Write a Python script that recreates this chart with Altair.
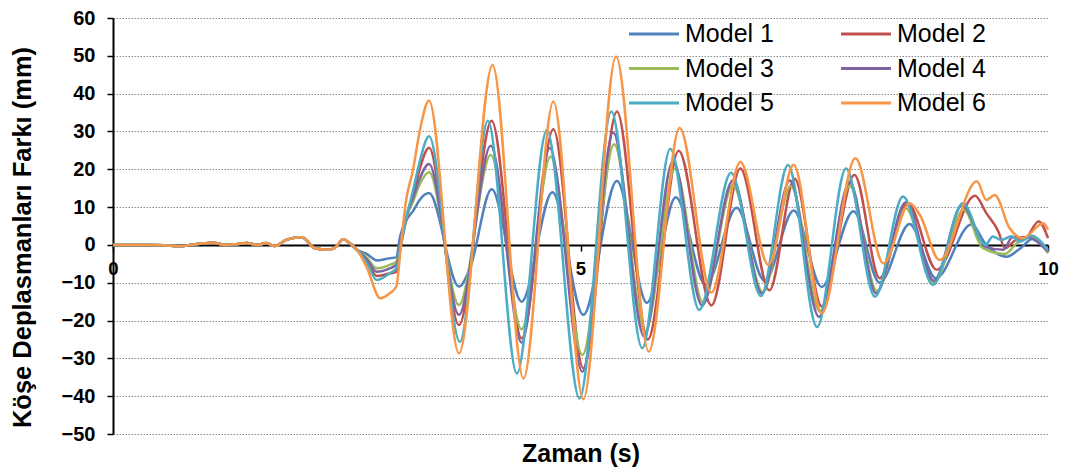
import altair as alt
import pandas as pd

FONT = "Liberation Sans"

models = ["Model 1", "Model 2", "Model 3", "Model 4", "Model 5", "Model 6"]
colors = ["#4F81BD", "#C0504D", "#9BBB59", "#8064A2", "#4BACC6", "#F79646"]

# shared low-amplitude start (all models nearly identical)
t_early = [0.0, 0.40, 0.55, 0.72, 0.85, 0.95, 1.07, 1.20, 1.32, 1.43, 1.55, 1.64, 1.73,
           1.86, 2.02, 2.16, 2.30, 2.39, 2.46, 2.53, 2.61]
v_early = [0.0, 0.0, -0.1, -0.4, 0.1, 0.4, 0.6, 0.0, 0.2, 0.5, 0.0, 0.5, -0.3,
           1.4, 2.0, -0.9, -1.3, -0.4, 1.5, 0.5, -1.3]

t_m1 = [2.72, 2.82, 2.96, 3.03, 3.07, 3.14, 3.21, 3.28, 3.38, 3.70, 3.82, 4.05, 4.37, 4.70,
        5.03, 5.39, 5.71, 6.02, 6.34, 6.67, 6.97, 7.28, 7.58, 7.92, 8.20, 8.52, 8.80, 9.18,
        9.34, 9.56, 9.70, 9.84, 10.0]
v_m1 = [-2.5, -4.1, -3.5, -3.3, 2.2, 6.6, 9.0, 11.9, 13.7, -11.0, -6.0, 14.7, -15.0, 13.9,
        -18.5, 16.9, -15.3, 12.6, -10.6, 9.8, -9.5, 9.1, -11.1, 8.9, -10.0, 5.5, -8.8, 5.4,
        0.0, -3.1, -1.0, 1.6, -1.3]

t_m2 = [2.72, 2.82, 2.93, 3.03, 3.08, 3.14, 3.21, 3.28, 3.38, 3.70, 4.05, 4.37, 4.71, 5.03,
        5.39, 5.72, 6.05, 6.40, 6.71, 7.02, 7.29, 7.58, 7.93, 8.20, 8.50, 8.81, 9.22, 9.34,
        9.47, 9.54, 9.66, 9.75, 9.90, 10.0]
v_m2 = [-4.5, -8.2, -7.7, -7.1, 0.0, 7.0, 13.0, 20.0, 25.7, -21.2, 32.8, -24.7, 30.6, -32.6,
        35.3, -25.0, 24.9, -16.0, 20.2, -12.0, 17.5, -16.3, 18.5, -8.8, 11.0, -6.6, 13.0, 8.4,
        3.5, -0.9, 1.3, 1.5, 6.2, 1.8]

t_m3 = [2.72, 2.82, 2.96, 3.03, 3.08, 3.14, 3.21, 3.28, 3.38, 3.70, 4.04, 4.37, 4.68, 5.02,
        5.36, 5.69, 6.01, 6.31, 6.63, 6.95, 7.25, 7.56, 7.88, 8.17, 8.48, 8.78, 9.10, 9.30,
        9.54, 9.67, 9.83, 10.0]
v_m3 = [-3.5, -6.2, -5.3, -4.4, 1.0, 7.5, 11.5, 16.0, 19.2, -15.9, 23.8, -22.3, 23.4, -29.1,
        26.6, -22.9, 20.1, -15.2, 15.8, -12.5, 15.6, -17.6, 15.6, -12.2, 9.7, -10.0, 9.3, -0.8,
        -2.4, 0.5, 2.0, -2.2]

t_m4 = [2.72, 2.82, 2.96, 3.03, 3.08, 3.14, 3.21, 3.28, 3.38, 3.70, 4.04, 4.37, 4.67, 5.02,
        5.35, 5.68, 5.99, 6.30, 6.63, 6.94, 7.24, 7.55, 7.88, 8.16, 8.48, 8.78, 9.08, 9.34,
        9.52, 9.62, 9.77, 10.0]
v_m4 = [-4.0, -7.1, -6.2, -5.3, 1.0, 7.8, 12.5, 17.5, 21.4, -18.5, 26.2, -25.8, 25.6, -33.5,
        29.7, -24.2, 22.2, -16.0, 17.0, -12.8, 17.0, -19.0, 16.6, -12.8, 11.3, -9.5, 10.5, -0.6,
        -1.3, 2.0, 2.0, -1.8]

t_m5 = [2.72, 2.82, 2.96, 3.03, 3.08, 3.14, 3.21, 3.28, 3.38, 3.71, 4.01, 4.32, 4.64, 4.99,
        5.33, 5.66, 5.96, 6.27, 6.61, 6.93, 7.22, 7.53, 7.84, 8.15, 8.45, 8.77, 9.09, 9.33,
        9.41, 9.50, 9.61, 9.70, 9.83, 9.92, 10.0]
v_m5 = [-5.0, -9.3, -7.5, -6.2, 0.0, 7.6, 14.5, 22.0, 28.7, -25.6, 32.8, -34.0, 30.4, -40.6,
        35.3, -27.3, 25.4, -17.2, 19.1, -13.5, 21.1, -21.7, 20.2, -13.7, 12.8, -10.6, 11.0, 0.0,
        2.2, 1.3, 2.3, 0.9, 2.4, 1.0, -1.5]

t_m6 = [2.71, 2.86, 2.96, 3.03, 3.08, 3.13, 3.21, 3.28, 3.38, 3.70, 4.06, 4.39, 4.71, 5.03,
        5.38, 5.73, 6.06, 6.40, 6.71, 7.01, 7.28, 7.58, 7.94, 8.24, 8.52, 8.63, 8.84, 9.24,
        9.34, 9.43, 9.59, 9.73, 9.95, 10.0]
v_m6 = [-5.7, -14.1, -12.8, -11.0, 0.0, 11.0, 20.0, 30.0, 38.2, -28.7, 47.6, -35.3, 37.9, -40.8,
        49.8, -28.2, 30.9, -12.6, 21.9, -5.3, 21.2, -18.1, 22.9, -4.9, 11.0, 7.9, -4.0, 16.8,
        11.9, 13.2, 4.4, 1.8, 5.7, 4.0]

y_ticks = [-50, -40, -30, -20, -10, 0, 10, 20, 30, 40, 50, 60]
x_ticks = [0, 5, 10]

rows = []
series_t = [t_m1, t_m2, t_m3, t_m4, t_m5, t_m6]
series_v = [v_m1, v_m2, v_m3, v_m4, v_m5, v_m6]
for name, ts, vs in zip(models, series_t, series_v):
    for t, v in zip(t_early + ts, v_early + vs):
        rows.append({"Model": name, "t": t, "v": v})
df = pd.DataFrame(rows)

chart = alt.Chart(df).mark_line(strokeWidth=2.5, interpolate="monotone").encode(
    x=alt.X(
        "t:Q",
        scale=alt.Scale(domain=[0, 10], nice=False, zero=False),
        axis=alt.Axis(
            values=x_ticks, offset=-189, title="Zaman (s)", grid=False,
            domainColor="black", domainWidth=2, tickColor="black", tickSize=6, tickWidth=1.5,
            labelFont=FONT, labelFontSize=18.5, labelFontWeight="bold", labelColor="black",
            labelPadding=8, labelFlush=False, labelOverlap=False,
            titleFont=FONT, titleFontSize=25, titleFontWeight="bold", titleColor="black",
            titleY=216, titleBaseline="alphabetic",
        ),
    ),
    y=alt.Y(
        "v:Q",
        scale=alt.Scale(domain=[-50, 60], nice=False),
        axis=alt.Axis(
            values=y_ticks, title="Köşe Deplasmanları Farkı (mm)", grid=True,
            gridDash=[1.5, 1.5], gridColor="#8c8c8c", gridWidth=1,
            domainColor="black", domainWidth=2, tickColor="black", tickSize=6, tickWidth=1.5,
            labelFont=FONT, labelFontSize=20, labelFontWeight="bold", labelColor="black",
            labelPadding=12,
            titleFont=FONT, titleFontSize=25.5, titleFontWeight="bold", titleColor="black",
            titleX=-91, titleY=219, titleAngle=270, titleBaseline="middle", titleAlign="center",
        ),
    ),
    color=alt.Color(
        "Model:N",
        scale=alt.Scale(domain=models, range=colors),
        legend=alt.Legend(
            title=None, orient="none", legendX=527, legendY=2, columns=2, direction="horizontal",
            symbolType="M-2,0H2", symbolSize=625, symbolStrokeWidth=3,
            labelFont=FONT, labelFontSize=25, labelColor="black", labelLimit=0,
            columnPadding=61, rowPadding=7.5, labelOffset=17, padding=0,
        ),
    ),
).properties(
    width=935, height=416,
    autosize=alt.AutoSizeParams(type="none"),
    padding={"left": 113, "top": 18, "right": 26, "bottom": 42},
).configure_view(stroke=None)

chart.save("out.html", embed_options={"renderer": "svg", "actions": False})
